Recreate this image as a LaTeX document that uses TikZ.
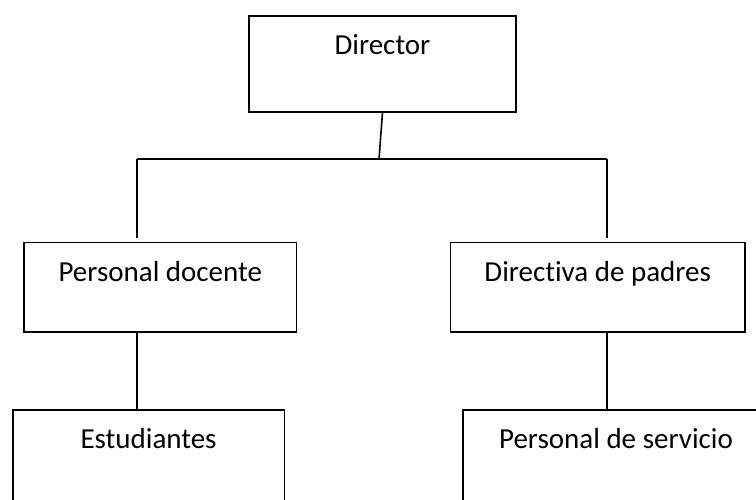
\documentclass[tikz,border=0pt]{standalone}
\usepackage{fontspec}
\setmainfont{Carlito}[Ligatures=NoCommon]
\usepackage{tikz}

\begin{document}
\begin{tikzpicture}[x=1bp,y=-1bp,
	puesto/.style={draw=black, line width=1.6bp, inner xsep=0pt, inner ysep=0pt,
		anchor=north west, text height=38.5bp, font=\fontsize{29bp}{34bp}\selectfont},
	linea/.style={line width=1.6bp}]
	\useasboundingbox (0,0) rectangle (756,500);

	\node[puesto, minimum width=266.7bp, text depth=58bp] (dir) at (248.3, 15) {Director};
	\node[puesto, minimum width=272.3bp, text depth=50.8bp] (docente) at (23.3, 241.7) {Personal docente};
	\node[puesto, minimum width=294.8bp, text depth=50.8bp] (padres) at (449.5, 241.7) {Directiva de padres};
	\node[puesto, minimum width=271.5bp, text depth=100bp] (alumnos) at (12, 409) {Estudiantes};
	\node[puesto, minimum width=306.4bp, text depth=100bp] (servicio) at (462, 409) {Personal de servicio};

	\coordinate (split) at (379, 159);
	\coordinate (hl) at (137, 159);
	\coordinate (hr) at (607, 159);

	\draw[linea] (dir.south) -- (split);
	\draw[linea] (hl) -- (hr);
	\draw[linea, shorten >=4bp] (hl) -- (hl |- docente.north);
	\draw[linea, shorten >=4bp] (hr) -- (hr |- padres.north);

	\draw[linea] (docente.south -| hl) -- (alumnos.north -| hl);
	\draw[linea] (padres.south -| hr) -- (servicio.north -| hr);
\end{tikzpicture}
\end{document}
